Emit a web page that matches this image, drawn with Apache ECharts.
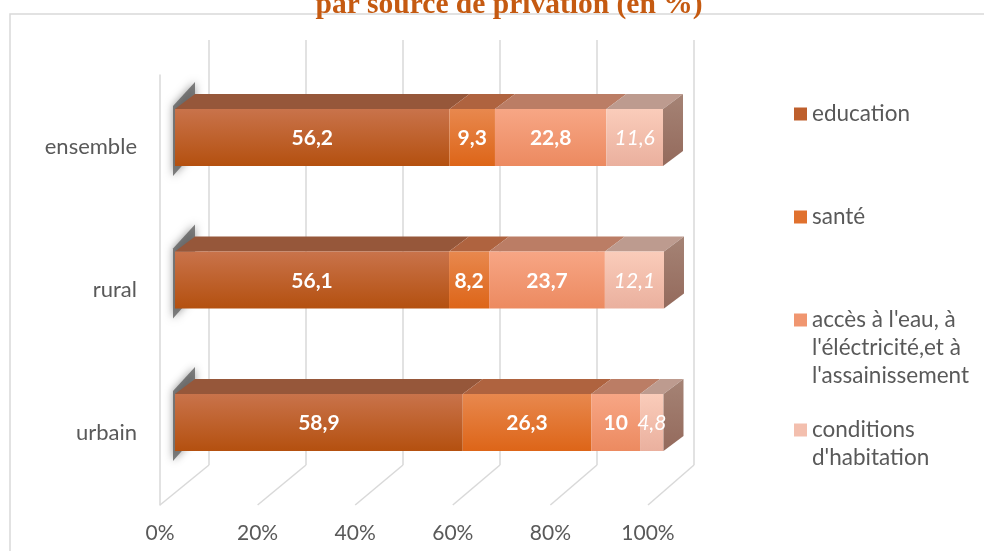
<!DOCTYPE html>
<html>
<head>
<meta charset="utf-8">
<script src="https://cdn.jsdelivr.net/npm/echarts@6/dist/echarts.min.js"></script>
<style>
  html, body { margin: 0; background: #fff; }
  #chart { width: 984px; height: 551px; }
</style>
</head>
<body>
<div id="chart"></div>
<script>
// categories bottom -> top (category axis starts at the bottom)
const categories = ["urbain", "rural", "ensemble"];
const seriesNames = [
  "education",
  "santé",
  "accès à l'eau, à\nl'éléctricité,et à\nl'assainissement",
  "conditions\nd'habitation",
];
const education = [58.9, 56.1, 56.2];
const sante = [26.3, 8.2, 9.3];
const acces = [10, 23.7, 22.8];
const conditions = [4.8, 12.1, 11.6];
const xTicks = [0, 20, 40, 60, 80, 100];

const values = [education, sante, acces, conditions];

// colours per segment: front top, front bottom, top face
const COLORS = [
  { top: "#C9734B", bottom: "#B4500F", face: "#96573A", legend: "#BE5F2C" },
  { top: "#E8884E", bottom: "#DD6518", face: "#AF633F", legend: "#E0712E" },
  { top: "#F7A685", bottom: "#EC8A60", face: "#BB7D65", legend: "#F09670" },
  { top: "#FACCBA", bottom: "#EAB09E", face: "#BD9B8F", legend: "#F3BFAE" },
];
const DX = 20, DY = -15;
const FONT = "Lato, 'Open Sans', sans-serif";
const GREY = "#595959";

const chart = echarts.init(document.getElementById("chart"), null, { renderer: "canvas" });

// stack starts
const starts = values.map((arr, si) =>
  arr.map((_, ci) => values.slice(0, si).reduce((s, a) => s + a[ci], 0))
);

function fmt(v) {
  return String(v).replace(".", ",");
}

function barItem(si) {
  return function (params, api) {
    const s = api.value(0), e = api.value(1), ci = api.value(2), v = api.value(3);
    const p0 = api.coord([s, ci]);
    const p1 = api.coord([e, ci]);
    const h = api.size([0, 1])[1] * 0.4;
    const x0 = p0[0], x1 = p1[0];
    const yT = p0[1] - h / 2, yB = p0[1] + h / 2;
    const c = COLORS[si];
    const children = [];

    if (si === 0) {
      // soft dark shadow on the left edge
      children.push({
        type: "polygon",
        shape: { points: [[x0 - 2, yT - 3], [x0 + DX, yT + DY - 12], [x0 + DX, yB + DY], [x0 - 2, yB + 10]] },
        style: { fill: "rgba(90,90,90,0.75)", shadowBlur: 8, shadowColor: "rgba(0,0,0,0.55)" },
      });
    }
    children.push({
      type: "polygon",
      shape: { points: [[x0, yT], [x0 + DX, yT + DY], [x1 + DX, yT + DY], [x1, yT]] },
      style: { fill: c.face },
    });
    children.push({
      type: "rect",
      shape: { x: x0, y: yT, width: x1 - x0, height: yB - yT },
      style: {
        fill: new echarts.graphic.LinearGradient(0, 0, 0, 1, [
          { offset: 0, color: c.top },
          { offset: 1, color: c.bottom },
        ]),
      },
    });
    if (si === values.length - 1) {
      children.push({
        type: "polygon",
        shape: { points: [[x1, yT], [x1 + DX, yT + DY], [x1 + DX, yB + DY], [x1, yB]] },
        style: {
          fill: new echarts.graphic.LinearGradient(0, 0, 0, 1, [
            { offset: 0, color: "#A58375" },
            { offset: 1, color: "#946A5C" },
          ]),
        },
      });
    }
    const italic = si === values.length - 1;
    children.push({
      type: "text",
      style: {
        text: fmt(v),
        x: (x0 + x1) / 2,
        y: (yT + yB) / 2 + 1,
        align: "center",
        verticalAlign: "middle",
        fill: "#fff",
        font: (italic ? "italic normal " : "normal bold ") + "21px " + FONT,
      },
    });
    return { type: "group", children };
  };
}

const barSeries = values.map((arr, si) => ({
  name: seriesNames[si],
  type: "custom",
  xAxisIndex: 2,
  yAxisIndex: 2,
  itemStyle: { color: COLORS[si].legend },
  encode: { x: [0, 1], y: 2 },
  data: arr.map((v, ci) => [starts[si][ci], starts[si][ci] + v, ci, v]),
  renderItem: barItem(si),
  z: 5,
}));

// diagonal floor lines from the back wall to the front edge
const floorSeries = {
  type: "custom",
  xAxisIndex: 1,
  yAxisIndex: 1,
  silent: true,
  data: xTicks.map((v) => [v]),
  encode: { x: 0 },
  renderItem: function (params, api) {
    const v = api.value(0);
    const cs = params.coordSys;
    const fx = api.coord([v, 0])[0];
    const fy = cs.y + cs.height;
    const back = chart.convertToPixel({ gridIndex: 0 }, [v, 0]);
    return {
      type: "line",
      shape: { x1: back[0], y1: back[1], x2: fx, y2: fy },
      style: { stroke: "#D9D9D9", lineWidth: 1.5 },
    };
  },
  z: 1,
};

// one legend per entry so the marker sits on the first text line
function legendAt(si, top) {
  const lines = seriesNames[si].split("\n").length;
  return {
    data: [seriesNames[si]],
    orient: "vertical",
    left: 789,
    top: top,
    icon: "rect",
    itemWidth: 13,
    itemHeight: 13,
    selectedMode: false,
    formatter: (name) => "\n".repeat(lines - 1) + name,
    textStyle: {
      fontFamily: FONT,
      fontSize: 22.5,
      color: GREY,
      lineHeight: 28,
    },
  };
}

const option = {
  animation: false,
  backgroundColor: "#fff",
  title: {
    text: "par source de privation (en %)",
    left: 504,
    textAlign: "center",
    top: -15,
    textStyle: {
      fontFamily: "'Liberation Serif', serif",
      fontWeight: "bold",
      fontSize: 29.5,
      color: "#C55A11",
    },
  },
  graphic: [
    {
      type: "rect",
      shape: { x: 10, y: 14, width: 1000, height: 600 },
      style: { fill: "none", stroke: "#D9D9D9", lineWidth: 1.5 },
      z: -1,
    },
  ],
  legend: [
    legendAt(0, 95),
    legendAt(1, 198),
    legendAt(2, 245),
    legendAt(3, 383),
  ],
  grid: [
    { left: 209, right: 290, top: 40, bottom: 86 },   // back wall
    { left: 160, right: 336, top: 75, bottom: 46 },   // front floor edge + left wall
    { left: 175, right: 320.5, top: 66.25, bottom: 57.25 }, // bar fronts
  ],
  xAxis: [
    {
      gridIndex: 0, type: "value", min: 0, max: 100, interval: 20,
      axisLine: { show: false }, axisTick: { show: false }, axisLabel: { show: false },
      splitLine: { show: true, lineStyle: { color: "#D9D9D9", width: 1.5 } },
    },
    {
      gridIndex: 1, type: "value", min: 0, max: 100, interval: 20,
      axisLine: { show: false }, axisTick: { show: false }, splitLine: { show: false },
      axisLabel: { formatter: "{value}%", margin: 18, color: GREY, fontFamily: FONT, fontSize: 21 },
    },
    {
      gridIndex: 2, type: "value", min: 0, max: 100, show: false,
    },
  ],
  yAxis: [
    { gridIndex: 0, type: "value", min: 0, max: 1, show: false },
    {
      gridIndex: 1, type: "category", data: categories,
      axisLine: { show: true, lineStyle: { color: "#D9D9D9", width: 1.5 } },
      axisTick: { show: false },
      axisLabel: { margin: 23, color: GREY, fontFamily: FONT, fontSize: 22 },
    },
    { gridIndex: 2, type: "category", data: categories, show: false },
  ],
  series: [floorSeries].concat(barSeries),
};

chart.setOption(option);
window.addEventListener("resize", () => chart.resize());
</script>
</body>
</html>
